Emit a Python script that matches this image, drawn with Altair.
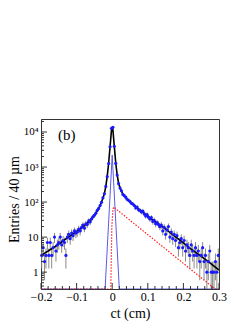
import math
import altair as alt
import pandas as pd

# ---- data ----
bin_x = [round(-0.198 + 0.004 * i, 3) for i in range(125)]
counts = [
    3, 5, 2, 3, 7, 3, 7, 3, 5, 10,
    4, 6, 7, 10, 6, 8, 7, 3, 10, 12,
    9, 13, 11, 15, 13, 14, 17, 15, 19, 22,
    18, 24, 23, 29, 27, 33, 38, 42, 48, 58,
    66, 80, 98, 132, 172, 280, 530, 1260, 3800, 12800,
    13600, 3900, 1270, 590, 335, 250, 210, 165, 152, 138,
    120, 112, 104, 92, 88, 80, 68, 72, 60, 58,
    52, 55, 46, 40, 44, 37, 33, 36, 28, 30,
    24, 26, 23, 20, 22, 15, 19, 12, 16, 20,
    10, 14, 9, 12, 8, 11, 5, 7, 9, 5,
    8, 4, 6, 5, 3, 6, 4, 3, 5, 3,
    4, 2, 3, 5, 2, 3, 1, 2, 4, 1,
    1, 1, 2, 1, 3,
]

fit_x = [-0.2, -0.18, -0.16, -0.14, -0.124, -0.1, -0.087, -0.07, -0.06, -0.05,
         -0.042, -0.034, -0.030, -0.026, -0.022, -0.018, -0.014, -0.010, -0.006, -0.002,
         0.0, 0.002, 0.006, 0.010, 0.014, 0.018, 0.022, 0.026, 0.030, 0.036,
         0.042, 0.05, 0.06, 0.078, 0.1, 0.12, 0.134, 0.148, 0.16, 0.18,
         0.2, 0.22, 0.25, 0.27, 0.3]
fit_y = [3.0, 4.0, 5.4, 7.5, 9.8, 14.5, 18, 25, 32, 42,
         56, 78, 100, 130, 175, 275, 540, 1280, 3800, 11500,
         14000, 11500, 3800, 1280, 600, 340, 255, 205, 170, 141,
         122, 102, 84, 59, 40, 27.4, 22, 17.7, 14, 9.8,
         6.8, 4.7, 2.8, 2.0, 1.14]

blue_x = [-0.2, -0.02, 0.0, 0.02, 0.3]
blue_y = [0.001, 0.001, 2200, 0.001, 0.001]

red_x = [-0.2, -0.004, -0.001, 0.002, 0.004, 0.289, 0.3]
red_y = [0.001, 0.001, 20, 60, 72, 0.33, 0.001]

x_major = [-0.2, -0.1, 0.0, 0.1, 0.2, 0.3]
x_minor = [-0.18, -0.16, -0.14, -0.12, -0.08, -0.06, -0.04, -0.02,
           0.02, 0.04, 0.06, 0.08, 0.12, 0.14, 0.16, 0.18,
           0.22, 0.24, 0.26, 0.28]
y_major = [1, 10, 100, 1000, 10000]
y_minor = [m * 10 ** k for k in range(-1, 5) for m in range(2, 10)
           if 0.33 <= m * 10 ** k <= 23500]

# ---- tables ----
pts = pd.DataFrame({"x": bin_x, "n": counts})
pts["lo"] = [max(n - math.sqrt(n), 0.001) for n in counts]
pts["hi"] = [n + math.sqrt(n) for n in counts]
fit = pd.DataFrame({"x": fit_x, "y": fit_y})
blue = pd.DataFrame({"x": blue_x, "y": blue_y})
red = pd.DataFrame({"x": red_x, "y": red_y})

W, H = 178, 170
FONT = "Liberation Serif"

xs = alt.Scale(domain=[-0.2, 0.3], nice=False, zero=False)
ys = alt.Scale(type="log", domain=[0.33, 23500], nice=False, clamp=True)

xax = alt.Axis(values=x_major, ticks=False, grid=False, domainColor="#333",
               labelFont=FONT, labelFontSize=12, labelColor="black",
               labelPadding=2, labelFlush=False, labelOverlap=False,
               labelExpr="datum.value == 0 ? '0' : replace(format(datum.value, '.1f'), '-', '\u2212')",
               title="ct (cm)", titleFont=FONT, titleFontSize=14,
               titleFontWeight="normal", titleColor="black",
               titleY=28, titleBaseline="alphabetic")
yax = alt.Axis(values=y_major, ticks=False, grid=False, domainColor="#333",
               labelFont=FONT, labelFontSize=11, labelColor="black",
               labelPadding=3, labelFlush=False, labelOverlap=False,
               labelExpr="datum.value == 1 ? '1' : datum.value == 10 ? '10' : datum.value == 100 ? '10\u00b2' : datum.value == 1000 ? '10\u00b3' : '10\u2074'",
               title="Entries / 40 \u00b5m", titleFont=FONT, titleFontSize=14,
               titleFontWeight="normal", titleColor="black",
               titleX=-27, titleY=80, titleBaseline="middle", titleAlign="center")

X = alt.X("x:Q", scale=xs, axis=xax)
Y = alt.Y("y:Q", scale=ys, axis=yax)

err = alt.Chart(pts).mark_rule(color="#8a8a8a", strokeWidth=1).encode(
    x=alt.X("x:Q", scale=xs, axis=xax),
    y=alt.Y("lo:Q", scale=ys, axis=yax),
    y2="hi:Q",
)
blue_line = alt.Chart(blue).mark_line(color="#5a5ae6", strokeWidth=1, clip=True).encode(x=X, y=Y)
red_line = alt.Chart(red).mark_line(color="#ff2020", strokeWidth=1.2,
                                    strokeDash=[1.5, 1.5], clip=True).encode(x=X, y=Y)
fit_line = alt.Chart(fit).mark_line(color="black", strokeWidth=1.6, clip=True).encode(x=X, y=Y)
dots = alt.Chart(pts).mark_circle(color="#1a1aff", size=10, opacity=1).encode(
    x=alt.X("x:Q", scale=xs, axis=xax),
    y=alt.Y("n:Q", scale=ys, axis=yax),
)

xmaj = alt.Chart(pd.DataFrame({"x": x_major})).mark_rule(color="#333").encode(
    x=alt.X("x:Q", scale=xs, axis=xax), y=alt.value(H), y2=alt.value(H - 6))
xmin = alt.Chart(pd.DataFrame({"x": x_minor})).mark_rule(color="#333").encode(
    x=alt.X("x:Q", scale=xs, axis=xax), y=alt.value(H), y2=alt.value(H - 3))
ymaj = alt.Chart(pd.DataFrame({"y": y_major})).mark_rule(color="#333").encode(
    y=alt.Y("y:Q", scale=ys, axis=yax), x=alt.value(0), x2=alt.value(6))
ymin = alt.Chart(pd.DataFrame({"y": y_minor})).mark_rule(color="#333").encode(
    y=alt.Y("y:Q", scale=ys, axis=yax), x=alt.value(0), x2=alt.value(3))

label = alt.Chart(pd.DataFrame({"t": ["(b)"]})).mark_text(
    font=FONT, fontSize=15, align="left", baseline="middle", color="black").encode(
    text="t:N", x=alt.value(17), y=alt.value(16))

chart = alt.layer(err, blue_line, red_line, fit_line, dots,
                  xmaj, xmin, ymaj, ymin, label).properties(
    width=W, height=H,
    autosize=alt.AutoSizeParams(type="none"),
    padding={"left": 33, "top": 111, "right": 22, "bottom": 32},
).configure_view(stroke="#333", strokeWidth=1)

chart.save("out.html", embed_options={"renderer": "svg", "actions": False})
